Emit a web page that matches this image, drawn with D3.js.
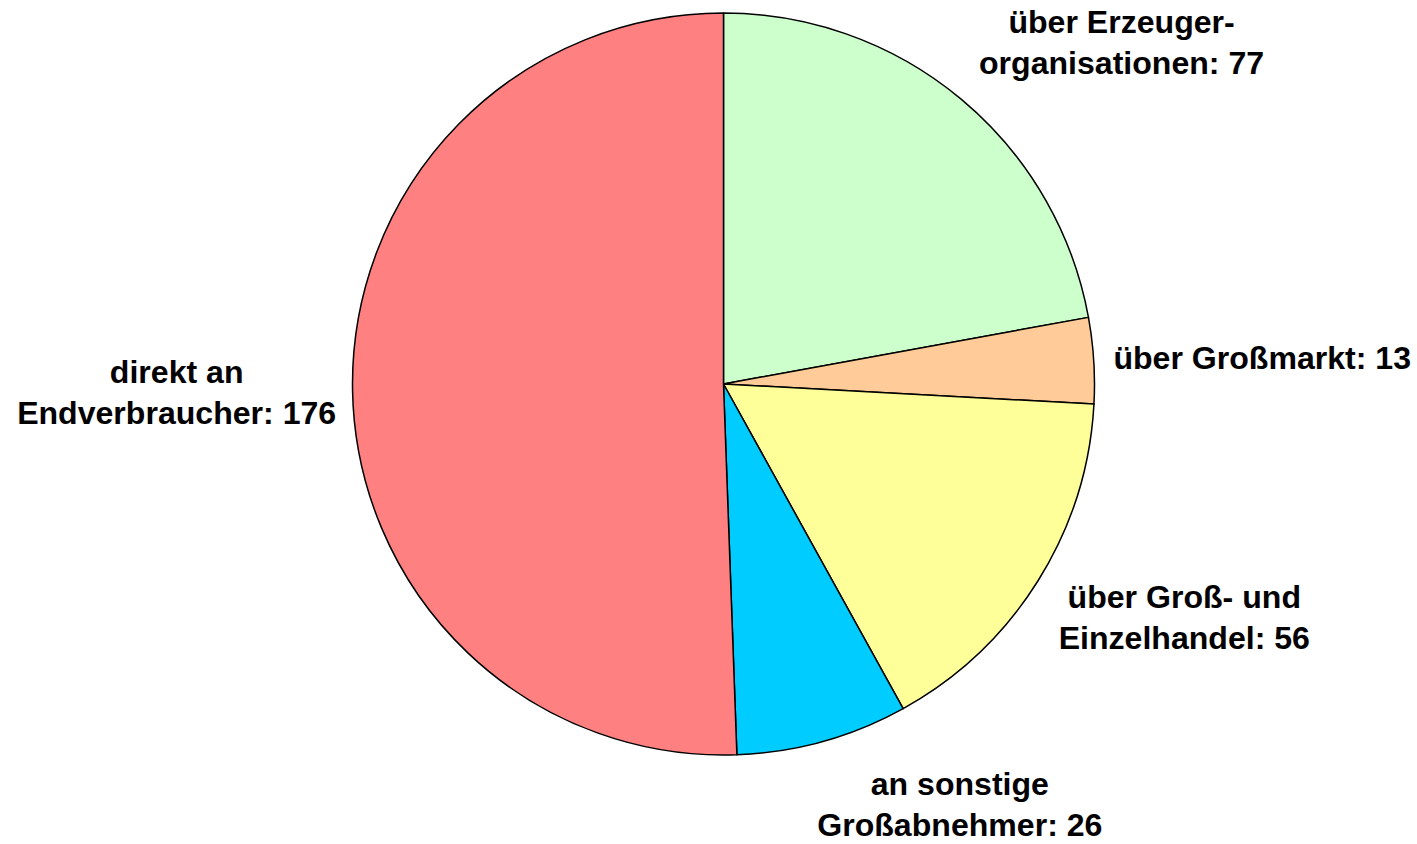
<!DOCTYPE html>
<html>
<head>
<meta charset="utf-8">
<script src="https://cdn.jsdelivr.net/npm/d3@7"></script>
<style>
  html, body { margin: 0; padding: 0; background: #fff; }
  svg { display: block; }
  text { font-family: "Liberation Sans", Arial, sans-serif; font-weight: bold; font-size: 31px; fill: #000; }
</style>
</head>
<body>
<svg id="chart" width="1417" height="844"></svg>
<script>
// Absatzwege: Anzahl der Betriebe je Vermarktungsweg
const categories = [
  ["über Erzeuger-", "organisationen"],
  ["über Großmarkt"],
  ["über Groß- und", "Einzelhandel"],
  ["an sonstige", "Großabnehmer"],
  ["direkt an", "Endverbraucher"]
];
const values = [77, 13, 56, 26, 176];
const colors = ["#CCFFCC", "#FFCC99", "#FFFF99", "#00CCFF", "#FF8080"];

// Label anchor points, in units of the pie radius, relative to the centre
const labelAnchors = [
  [1.073, -0.921],
  [1.452, -0.070],
  [1.242, 0.630],
  [0.637, 1.133],
  [-1.474, 0.024]
];

const svg = d3.select("#chart");
const cx = 723.5, cy = 384, R = 371;
const lineH = 41;

const pie = d3.pie().sort(null).value(d => d)(values);
const arc = d3.arc().innerRadius(0).outerRadius(R);

const g = svg.append("g").attr("transform", `translate(${cx},${cy})`);

g.selectAll("path.slice")
  .data(pie)
  .join("path")
  .attr("class", "slice")
  .attr("d", arc)
  .attr("fill", (d, i) => colors[i])
  .attr("stroke", "#000")
  .attr("stroke-width", 1.5)
  .attr("stroke-linejoin", "round");

const labels = g.selectAll("text.label")
  .data(pie)
  .join("text")
  .attr("class", "label")
  .attr("text-anchor", "middle")
  .attr("transform", (d, i) => `translate(${labelAnchors[i][0] * R},${labelAnchors[i][1] * R}) scale(1.035,1)`);

labels.each(function(d, i) {
  const lines = categories[i].slice();
  lines[lines.length - 1] = lines[lines.length - 1] + ": " + d.data;
  const n = lines.length;
  d3.select(this).selectAll("tspan")
    .data(lines)
    .join("tspan")
    .attr("x", 0)
    .attr("y", (l, k) => (k - (n - 1) / 2) * lineH)
    .attr("dy", "0.35em")
    .text(l => l);
});
</script>
</body>
</html>
